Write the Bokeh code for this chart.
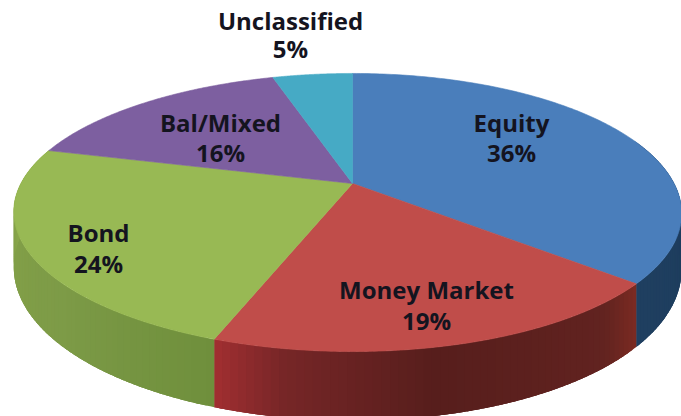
import numpy as np
from bokeh.plotting import figure
from bokeh.models import Range1d, ColumnDataSource
from bokeh.core.properties import value
from bokeh.embed import file_html
from bokeh.resources import INLINE

categories = ["Equity", "Money Market", "Bond", "Bal/Mixed", "Unclassified"]
shares = [36.3, 19.2, 23.7, 16.1, 4.7]
pct_labels = ["36%", "19%", "24%", "16%", "5%"]
top_colors = ["#4a7ebb", "#c04d4a", "#98b954", "#7d5fa0", "#46aac5"]

# side-wall shading: (fraction along the visible part of each slice, colour)
side_stops = [
    [(0.0, "#1c3a5a"), (1.0, "#1f3f60")],
    [(0.0, "#7c2b22"), (0.12, "#622320"), (0.55, "#571e1c"), (0.85, "#762627"), (1.0, "#a22f31")],
    [(0.0, "#6f8f3c"), (0.35, "#7d9b47"), (0.7, "#83a048"), (1.0, "#94b350")],
]

label_x = [511, 426, 98, 220, 290]
name_y = [122, 289, 232, 122, 20]
pct_y = [152, 320, 263, 152, 48]

CX, CY, A, B, K, SHIFT = 352.0, 183.0, 326.6, 133.0, 0.2086, 5.0


def project(deg):
    t = np.radians(deg)
    u, v = np.sin(t), np.cos(t)
    w = 1 + K * v
    return CX + A * u / w - SHIFT * u * u, CY - B * v / w, v


def mix(stops, f):
    pos = [s[0] for s in stops]
    rgb = [[int(s[1][i:i + 2], 16) for i in (1, 3, 5)] for s in stops]
    c = [np.interp(f, pos, [r[i] for r in rgb]) for i in range(3)]
    return "#%02x%02x%02x" % tuple(int(round(x)) for x in c)


p = figure(width=681, height=416, output_backend="svg", toolbar_location=None,
           x_range=Range1d(0, 681), y_range=Range1d(416, 0), min_border=0,
           outline_line_color=None, background_fill_color="white")
p.axis.visible = False
p.grid.visible = False

edges = np.concatenate([[0], np.cumsum(shares)]) * 3.6

# side walls: each piece runs on under the next one so no seams show
VIS_START, VIS_END = 70.0, 292.0
for i, stops in enumerate(side_stops):
    a0 = max(edges[i], VIS_START)
    a1 = min(edges[i + 1], VIS_END)
    grid = np.linspace(a0, a1, int((a1 - a0) / 1.2) + 2)
    xs, ys, cols = [], [], []
    for g0, g1 in zip(grid[:-1], grid[1:]):
        th = np.linspace(g0, min(g1 + 2.0, a1), 6)
        x, y, v = project(th)
        depth = 52 - 17 * v
        xs.append(list(x) + list(x[::-1]))
        ys.append(list(y) + list((y + depth)[::-1]))
        cols.append(mix(stops, ((g0 + g1) / 2 - a0) / (a1 - a0)))
    p.patches(xs, ys, fill_color=cols, line_color=None)

# top surface
for i, c in enumerate(top_colors):
    th = np.linspace(edges[i], edges[i + 1], 160)
    x, y, _ = project(th)
    p.patch([CX] + list(x), [CY] + list(y), fill_color=c, line_color=c, line_width=0.6)

src = ColumnDataSource(dict(x=label_x, ny=name_y, py=pct_y, n=categories, pc=pct_labels))
for col, ycol in (("n", "ny"), ("pc", "py")):
    p.text("x", ycol, text=col, source=src, text_font=value("Open Sans"), text_font_size="24px",
           text_font_style="bold", text_color="#14141f", text_align="center",
           text_baseline="middle")

open("out.html", "w").write(file_html(p, INLINE))
